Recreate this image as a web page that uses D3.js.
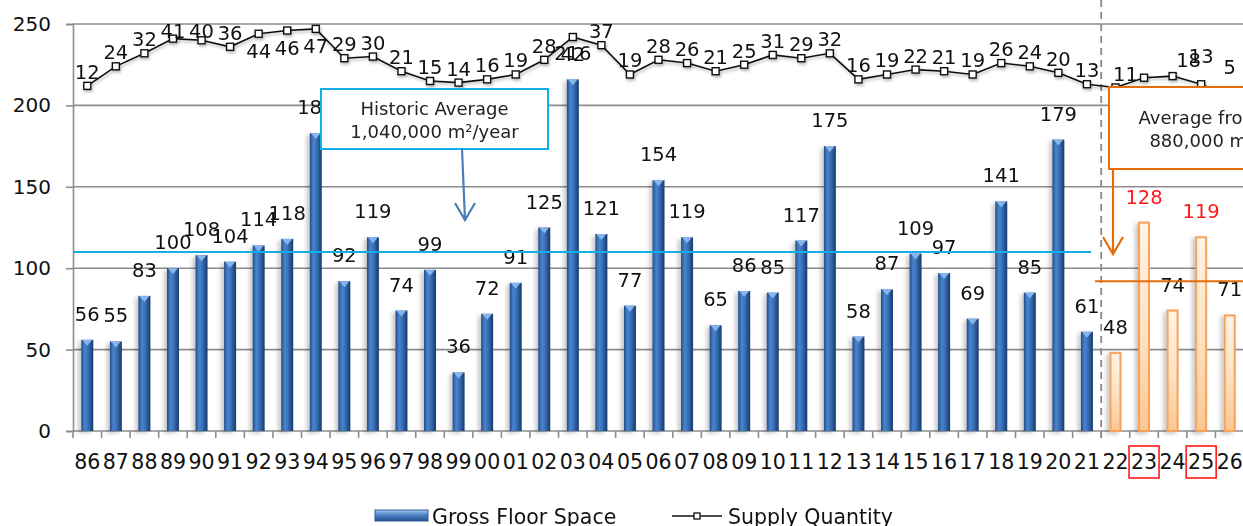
<!DOCTYPE html>
<html>
<head>
<meta charset="utf-8">
<script src="https://cdn.jsdelivr.net/npm/d3@7"></script>
<style>
    html, body { margin: 0; padding: 0; background: white; }
    svg { display: block; font-family: "DejaVu Sans", Verdana, sans-serif; }
</style>
</head>
<body>
<svg id="chart" width="1243" height="526"></svg>
<script>

// Data
const YEARS = ['86', '87', '88', '89', '90', '91', '92', '93', '94', '95', '96', '97', '98', '99',
               '00', '01', '02', '03', '04', '05', '06', '07', '08', '09',
               '10', '11', '12', '13', '14', '15', '16', '17', '18', '19',
               '20', '21', '22', '23', '24', '25', '26'];
const FLOOR_SPACE = [56, 55, 83, 100, 108, 104, 114, 118, 183, 92, 119, 74, 99, 36,
                     72, 91, 125, 216, 121, 77, 154, 119, 65, 86,
                     85, 117, 175, 58, 87, 109, 97, 69, 141, 85,
                     179, 61, 48, 128, 74, 119, 71];
const SUPPLY = [12, 24, 32, 41, 40, 36, 44, 46, 47, 29, 30, 21, 15, 14,
                16, 19, 28, 42, 37, 19, 28, 26, 21, 25,
                31, 29, 32, 16, 19, 22, 21, 19, 26, 24,
                20, 13, 11, 17, 18, 13, 5];
const FORECAST_YEARS = ['22', '23', '24', '25', '26'];
const HIGHLIGHT_YEARS = ['23', '25'];
const Y_TICKS = [0, 50, 100, 150, 200, 250];
const HISTORIC_AVG_LEVEL = 110;
const FORECAST_AVG_LEVEL = 92;
const HISTORIC_NOTE = ['Historic Average', '1,040,000 m²/year'];
const FORECAST_NOTE = ['Average from 2022', '880,000 m²/year'];
const LEGEND = ['Gross Floor Space', 'Supply Quantity'];

// Constants
const WIDTH = 1243, HEIGHT = 526;
const LEFT = 73, RIGHT = 1244, TOP = 24, BOTTOM = 431;
const GRID = '#8c8c8c';
const BLUE_LINE = '#12aee8';
const ORANGE = '#e46c0a';
const FONT = 19.5;
// hand-placed supply labels in the forecast part: [dx, dy] from the marker
const SUPPLY_LABEL_NUDGE = {'22': [10, -13], '23': [4, 15], '24': [16, -16], '25': [0, -28], '26': [0, -30]};

const svg = d3.select('#chart');
const rows = YEARS.map((year, i) => ({year, value: FLOOR_SPACE[i], supply: SUPPLY[i],
                                       forecast: FORECAST_YEARS.includes(year),
                                       highlight: HIGHLIGHT_YEARS.includes(year)}));

// Scales
const x = d3.scaleBand().domain(YEARS).range([LEFT, RIGHT]).paddingInner(0.58).paddingOuter(0.29);
const y = d3.scaleLinear().domain([0, 250]).range([BOTTOM, TOP]);
// supply quantity sits on a hidden secondary axis spanning the 200..250 band
const ySupply = d3.scaleLinear().domain([0, 50]).range([y(200), y(250)]);
const cx = (d) => x(d.year) + x.bandwidth() / 2;

// Defs
const defs = svg.append('defs');
const barGrad = defs.append('linearGradient').attr('id', 'barGrad').attr('x1', 0).attr('x2', 1).attr('y1', 0).attr('y2', 0);
[['0%', '#224c8a'], ['30%', '#4a84cb'], ['55%', '#3a72b9'], ['100%', '#173a6b']]
    .forEach(([o, c]) => barGrad.append('stop').attr('offset', o).attr('stop-color', c));
const futGrad = defs.append('linearGradient').attr('id', 'futGrad').attr('x1', 0).attr('x2', 0).attr('y1', 0).attr('y2', 1);
[['0%', '#fff4e6'], ['55%', '#fde1c0'], ['100%', '#fbc690']]
    .forEach(([o, c]) => futGrad.append('stop').attr('offset', o).attr('stop-color', c));
const legGrad = defs.append('linearGradient').attr('id', 'legGrad').attr('x1', 0).attr('x2', 0).attr('y1', 0).attr('y2', 1);
[['0%', '#a9c8ee'], ['45%', '#4f86c9'], ['100%', '#234f8e']]
    .forEach(([o, c]) => legGrad.append('stop').attr('offset', o).attr('stop-color', c));
defs.append('filter').attr('id', 'shadow').attr('x', '-50%').attr('y', '-20%').attr('width', '200%').attr('height', '140%')
    .append('feDropShadow').attr('dx', -3).attr('dy', 2).attr('stdDeviation', 2)
    .attr('flood-color', '#000').attr('flood-opacity', 0.22);
defs.append('filter').attr('id', 'lineShadow').attr('x', '-10%').attr('y', '-30%').attr('width', '120%').attr('height', '160%')
    .append('feDropShadow').attr('dx', 1).attr('dy', 2).attr('stdDeviation', 1.5)
    .attr('flood-color', '#000').attr('flood-opacity', 0.3);

// Gridlines
svg.append('g').attr('class', 'grid')
    .selectAll('line').data(Y_TICKS.filter((t) => t > 0)).enter().append('line')
    .attr('x1', LEFT).attr('x2', RIGHT)
    .attr('y1', (t) => y(t)).attr('y2', (t) => y(t))
    .attr('stroke', GRID).attr('stroke-width', 1.6);

// Y axis
const yAxis = svg.append('g').attr('transform', `translate(${LEFT},0)`)
    .call(d3.axisLeft(y).tickValues(Y_TICKS).tickSize(7).tickPadding(15));
yAxis.select('.domain').attr('stroke', GRID).attr('stroke-width', 1.6);
yAxis.selectAll('.tick line').attr('stroke', GRID).attr('stroke-width', 1.6);
yAxis.selectAll('.tick text').attr('font-size', 20).attr('fill', '#111').attr('font-family', 'DejaVu Sans');

// X axis
const xAxis = svg.append('g').attr('transform', `translate(0,${BOTTOM})`)
    .call(d3.axisBottom(x).tickSize(0).tickPadding(23));
xAxis.select('.domain').attr('stroke', GRID).attr('stroke-width', 1.6).attr('d', `M${LEFT},0H${RIGHT}`);
xAxis.selectAll('.tick text').attr('font-size', 20.5).attr('fill', '#111').attr('font-family', 'DejaVu Sans');
// ticks sit between categories
svg.append('g').attr('class', 'xticks')
    .selectAll('line').data(d3.range(YEARS.length + 1)).enter().append('line')
    .attr('x1', (i) => LEFT + i * x.step()).attr('x2', (i) => LEFT + i * x.step())
    .attr('y1', BOTTOM).attr('y2', BOTTOM + 7)
    .attr('stroke', GRID).attr('stroke-width', 1.6);

// Highlight boxes round forecast years
svg.append('g').selectAll('rect').data(rows.filter((d) => d.highlight)).enter().append('rect')
    .attr('x', (d) => cx(d) - 15).attr('y', 446)
    .attr('width', 30).attr('height', 32)
    .attr('fill', 'none').attr('stroke', '#ff1a1a').attr('stroke-width', 1.6);

// Forecast divider
const dividerX = x(FORECAST_YEARS[0]) - x.step() * x.paddingInner() / 2;
svg.append('line')
    .attr('x1', dividerX).attr('x2', dividerX).attr('y1', 0).attr('y2', BOTTOM + 7)
    .attr('stroke', '#888').attr('stroke-width', 1.8).attr('stroke-dasharray', '7,5');

// Bars
const bars = svg.append('g').attr('class', 'bars').attr('filter', 'url(#shadow)');
bars.selectAll('rect.hist').data(rows.filter((d) => !d.forecast)).enter().append('rect')
    .attr('class', 'hist')
    .attr('x', (d) => x(d.year)).attr('width', x.bandwidth())
    .attr('y', (d) => y(d.value)).attr('height', (d) => BOTTOM - y(d.value))
    .attr('fill', 'url(#barGrad)');
bars.selectAll('path.cap').data(rows.filter((d) => !d.forecast)).enter().append('path')
    .attr('class', 'cap')
    .attr('d', (d) => `M${x(d.year) + 1},${y(d.value)}h${x.bandwidth() - 2}l${-(x.bandwidth() - 2) / 2},6z`)
    .attr('fill', '#8fbdf0').attr('opacity', 0.9);
bars.selectAll('rect.fut').data(rows.filter((d) => d.forecast)).enter().append('rect')
    .attr('class', 'fut')
    .attr('x', (d) => x(d.year) + 1).attr('width', x.bandwidth() - 2)
    .attr('y', (d) => y(d.value)).attr('height', (d) => BOTTOM - y(d.value))
    .attr('fill', 'url(#futGrad)').attr('stroke', '#f7a25a').attr('stroke-width', 2);

// Bar labels
svg.append('g').attr('class', 'bar-labels')
    .selectAll('text').data(rows).enter().append('text')
    .attr('x', cx).attr('y', (d) => y(d.value) - 19)
    .attr('text-anchor', 'middle').attr('font-size', FONT)
    .attr('fill', (d) => d.highlight ? '#ff1a1a' : '#111')
    .text((d) => d.value);

// Average lines
svg.append('line')
    .attr('x1', LEFT).attr('x2', 1091).attr('y1', y(HISTORIC_AVG_LEVEL)).attr('y2', y(HISTORIC_AVG_LEVEL))
    .attr('stroke', BLUE_LINE).attr('stroke-width', 2);
svg.append('line')
    .attr('x1', 1095).attr('x2', RIGHT).attr('y1', y(FORECAST_AVG_LEVEL)).attr('y2', y(FORECAST_AVG_LEVEL))
    .attr('stroke', ORANGE).attr('stroke-width', 2);

// Supply line
const supply = svg.append('g').attr('class', 'supply').attr('filter', 'url(#lineShadow)');
supply.append('path').datum(rows)
    .attr('d', d3.line().x(cx).y((d) => ySupply(d.supply)))
    .attr('fill', 'none').attr('stroke', '#111').attr('stroke-width', 1.6);
supply.selectAll('rect').data(rows).enter().append('rect')
    .attr('x', (d) => cx(d) - 3.5).attr('y', (d) => ySupply(d.supply) - 3.5)
    .attr('width', 7).attr('height', 7)
    .attr('fill', 'white').attr('stroke', '#111').attr('stroke-width', 1.4);

// Supply labels: above the marker, kept inside the plot, flipped below when crowded at the top
const supplyLabelPos = (d) => {
    const py = ySupply(d.supply);
    const nudge = SUPPLY_LABEL_NUDGE[d.year];
    if (nudge) return [cx(d) + nudge[0], py + nudge[1] + 7];
    const centre = py < 38.5 ? py + 17 : Math.max(py - 14, 31);
    return [cx(d), centre + 7];
};
svg.append('g').attr('class', 'supply-labels')
    .selectAll('text').data(rows).enter().append('text')
    .attr('x', (d) => supplyLabelPos(d)[0]).attr('y', (d) => supplyLabelPos(d)[1])
    .attr('text-anchor', 'middle').attr('font-size', FONT).attr('fill', '#111')
    .text((d) => d.supply);

// Annotations
function note(box, lines, colour, arrowTo) {
    const g = svg.append('g');
    g.append('rect')
        .attr('x', box.x).attr('y', box.y).attr('width', box.w).attr('height', box.h)
        .attr('fill', 'white').attr('stroke', colour).attr('stroke-width', 2);
    g.selectAll('text').data(lines).enter().append('text')
        .attr('x', box.x + box.w / 2).attr('y', (t, i) => box.y + box.textY + i * 23)
        .attr('text-anchor', 'middle').attr('font-size', 18).attr('fill', '#222')
        .text((t) => t);
    g.append('path')
        .attr('d', `M${arrowTo.x0},${box.y + box.h}L${arrowTo.x},${arrowTo.y}` +
                   `M${arrowTo.x - 10},${arrowTo.y - 17}L${arrowTo.x},${arrowTo.y}L${arrowTo.x + 10},${arrowTo.y - 17}`)
        .attr('fill', 'none').attr('stroke', arrowTo.colour).attr('stroke-width', 2.2);
}
note({x: 321, y: 89, w: 227, h: 60, textY: 26}, HISTORIC_NOTE, BLUE_LINE,
     {x0: 462, x: 465, y: 220, colour: '#4a7ebb'});
note({x: 1109, y: 87, w: 232, h: 82, textY: 37}, FORECAST_NOTE, ORANGE,
     {x0: 1113, x: 1113, y: 254, colour: ORANGE});

// Legend
const legend = svg.append('g').attr('class', 'legend');
legend.append('rect').attr('x', 375).attr('y', 510).attr('width', 53).attr('height', 11)
    .attr('fill', 'url(#legGrad)').attr('stroke', '#2c5a96').attr('stroke-width', 1);
legend.append('text').attr('x', 432).attr('y', 524).attr('font-size', 20.5).attr('fill', '#111').text(LEGEND[0]);
legend.append('line').attr('x1', 672).attr('x2', 722).attr('y1', 516).attr('y2', 516)
    .attr('stroke', '#111').attr('stroke-width', 1.6);
legend.append('rect').attr('x', 694).attr('y', 513).attr('width', 6).attr('height', 6)
    .attr('fill', 'white').attr('stroke', '#111').attr('stroke-width', 1.3);
legend.append('text').attr('x', 728).attr('y', 524).attr('font-size', 20.5).attr('fill', '#111').text(LEGEND[1]);

</script>
</body>
</html>
